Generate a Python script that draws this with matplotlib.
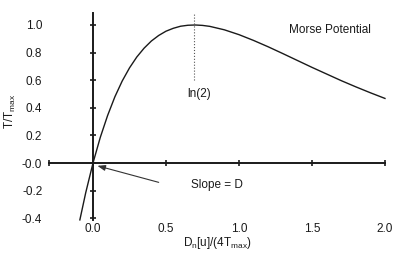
import matplotlib.pyplot as plt
from matplotlib.ticker import FixedLocator, FixedFormatter

# values
x = [-0.09, -0.05, 0.0, 0.05, 0.1, 0.15, 0.2, 0.25, 0.3, 0.35, 0.4, 0.45, 0.5,
     0.55, 0.6, 0.65, 0.7, 0.75, 0.8, 0.9, 1.0, 1.1, 1.2, 1.3, 1.4, 1.5, 1.6,
     1.7, 1.8, 1.9, 2.0]
t = [-0.412, -0.216, 0.0, 0.186, 0.344, 0.480, 0.594, 0.689, 0.768, 0.832,
     0.884, 0.924, 0.955, 0.976, 0.991, 0.998, 1.000, 0.997, 0.990, 0.965,
     0.930, 0.888, 0.842, 0.793, 0.743, 0.693, 0.645, 0.597, 0.552, 0.509,
     0.468]
xticks = [-0.3, 0.0, 0.5, 1.0, 1.5, 2.0]
xticklabels = ['', '0.0', '0.5', '1.0', '1.5', '2.0']
yticks = [-0.4, -0.2, 0.0, 0.2, 0.4, 0.6, 0.8, 1.0]
yticklabels = ['-0.4', '-0.2', '-0.0', '0.2', '0.4', '0.6', '0.8', '1.0']
xpeak = 0.693

plt.rcParams['font.family'] = 'Liberation Sans'
plt.rcParams['font.size'] = 8.5
ink = '#1a1a1a'

fig = plt.figure(figsize=(4, 2.58), dpi=100)
ax = fig.add_axes([0, 0, 1, 1])
ax.set_xlim(-0.637, 2.103)
ax.set_ylim(-0.688, 1.181)
ax.patch.set_visible(False)

for s in ['top', 'right']:
    ax.spines[s].set_visible(False)
ax.spines['left'].set_position(('data', 0))
ax.spines['bottom'].set_position(('data', 0))
ax.spines['left'].set_bounds(-0.41, 1.09)
ax.spines['bottom'].set_bounds(-0.3, 2.0)
for s in ['left', 'bottom']:
    ax.spines[s].set_linewidth(1.4)
    ax.spines[s].set_color(ink)

ax.xaxis.set_major_locator(FixedLocator(xticks))
ax.xaxis.set_major_formatter(FixedFormatter(xticklabels))
ax.yaxis.set_major_locator(FixedLocator(yticks))
ax.yaxis.set_major_formatter(FixedFormatter(yticklabels))
ax.tick_params(axis='both', direction='inout', length=5, width=1.2, color=ink, labelcolor=ink)
ax.tick_params(axis='y', pad=34)
ax.tick_params(axis='x', pad=41)

ax.plot(x, t, color=ink, lw=1.0)
ax.plot([xpeak, xpeak], [0.6, 1.09], color='#555555', lw=0.8, ls=':')

ax.text(0.726, 0.5, 'ln(2)', ha='center', va='center', color=ink)
ax.text(1.623, 0.964, 'Morse Potential', ha='center', va='center', color=ink)
ax.text(0.849, -0.16, 'Slope = D', ha='center', va='center', color=ink)
ax.annotate('', xy=(0.03, -0.02), xytext=(0.45, -0.14),
            arrowprops=dict(arrowstyle='-|>,head_length=0.55,head_width=0.2',
                            color='#333333', lw=0.8, shrinkA=0, shrinkB=0))

fig.text(0.025, 0.57, r'T/T$_\mathregular{max}$', rotation=90, ha='center', va='center', color=ink)
fig.text(0.543, 0.058, r'D$_\mathregular{n}$[u]/(4T$_\mathregular{max}$)', ha='center', va='center', color=ink)

fig.savefig('out.png', dpi=100)
